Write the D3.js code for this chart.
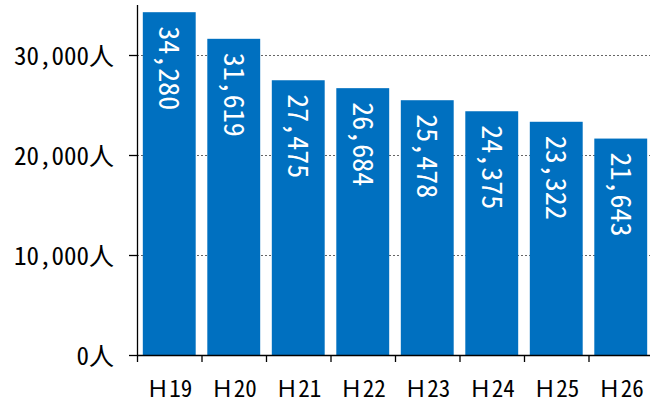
<!DOCTYPE html>
<html><head><meta charset="utf-8">
<script src="https://cdn.jsdelivr.net/npm/d3@7"></script>
<style>
html,body{margin:0;padding:0;background:#fff;}
svg{display:block;}
</style></head>
<body>
<svg id="chart" width="650" height="405"></svg>
<script>
const categories = ["Ｈ19","Ｈ20","Ｈ21","Ｈ22","Ｈ23","Ｈ24","Ｈ25","Ｈ26"];
const values = [34280, 31619, 27475, 26684, 25478, 24375, 23322, 21643];
const yTicks = [0, 10000, 20000, 30000];
const yTickLabels = ["0人", "10,000人", "20,000人", "30,000人"];

(function () {
const svg = d3.select("#chart");
const mLeft = 137, mRight = 653, mTop = 5, mBottom = 355;
const x = d3.scaleBand().domain(categories).range([mLeft, mRight]).paddingInner(0.18).paddingOuter(0.09);
const y = d3.scaleLinear().domain([0, 35000]).range([mBottom, mTop]);
const fontJP = "'Noto Sans Mono CJK JP', 'Noto Sans CJK JP', monospace";

// gridlines
svg.append("g").selectAll("line").data(yTicks.filter(d => d > 0)).join("line")
  .attr("x1", mLeft).attr("x2", 650).attr("y1", d => y(d) + 0.5).attr("y2", d => y(d) + 0.5)
  .attr("stroke", "#666").attr("stroke-width", 1).attr("stroke-dasharray", "2,2");

// bars
svg.append("g").selectAll("rect").data(values).join("rect")
  .attr("x", (d, i) => x(categories[i])).attr("width", x.bandwidth())
  .attr("y", d => y(d)).attr("height", d => mBottom - y(d))
  .attr("fill", "#0070C0");

// bar labels
const fmt = d3.format(",");
svg.append("g").selectAll("text").data(values).join("text")
  .attr("transform", (d, i) => `translate(${x(categories[i]) + x.bandwidth() / 2},${y(d) + 14}) rotate(90)`)
  .attr("dy", "0.36em").attr("text-anchor", "start")
  .attr("fill", "#fff").attr("font-family", fontJP).attr("font-size", 28)
  .text(fmt);

// y axis
svg.append("line").attr("x1", mLeft + 0.5).attr("x2", mLeft + 0.5).attr("y1", mTop).attr("y2", mBottom)
  .attr("stroke", "#000").attr("stroke-width", 1.3);
svg.append("g").selectAll("line").data(yTicks).join("line")
  .attr("x1", mLeft - 8).attr("x2", mLeft).attr("y1", d => y(d) + 0.5).attr("y2", d => y(d) + 0.5)
  .attr("stroke", "#000").attr("stroke-width", 1.3);
svg.append("g").selectAll("text").data(yTicks).join("text")
  .attr("x", 114).attr("y", d => y(d) + 1).attr("dy", "0.36em").attr("text-anchor", "end")
  .attr("font-family", fontJP).attr("font-size", 25).attr("fill", "#000")
  .text((d, i) => yTickLabels[i]);

// x axis
svg.append("line").attr("x1", mLeft).attr("x2", 650).attr("y1", mBottom + 0.5).attr("y2", mBottom + 0.5)
  .attr("stroke", "#000").attr("stroke-width", 1.3);
svg.append("g").selectAll("line").data(d3.range(categories.length + 1)).join("line")
  .attr("x1", i => mLeft + i * x.step() + 0.5).attr("x2", i => mLeft + i * x.step() + 0.5)
  .attr("y1", mBottom).attr("y2", mBottom + 7)
  .attr("stroke", "#000").attr("stroke-width", 1.3);
svg.append("g").selectAll("text").data(categories).join("text")
  .attr("x", d => x(d) + x.bandwidth() / 2).attr("y", 397).attr("text-anchor", "middle")
  .attr("font-family", fontJP).attr("font-size", 23).attr("fill", "#000")
  .text(d => d);
})();
</script>
</body></html>
